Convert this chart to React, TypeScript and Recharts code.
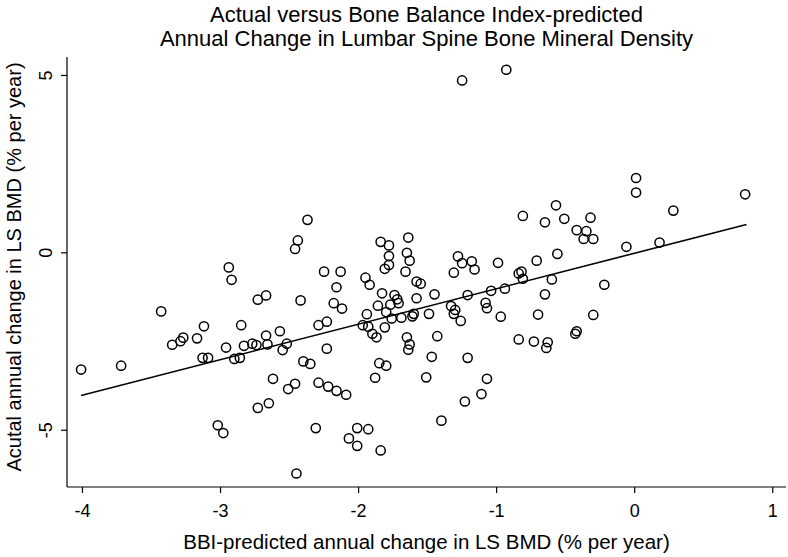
import { ComposedChart, Scatter, XAxis, YAxis } from 'recharts'

// BBI-predicted change (x) and actual change (y), % per year
const predicted = [
  -2.37, -2.44, -2.46, -2.94, -2.92, -3.43, -2.73, -2.67, -2.42, -3.12,
  -2.85, -3.35, -3.27, -3.29, -3.17, -2.96, -2.83, -2.77, -2.74, -2.67,
  -2.66, -2.57, -2.52, -2.55, -4.01, -3.72, -3.13, -3.09, -2.90, -2.86,
  -2.40, -2.35, -2.62, -2.46, -2.51, -2.73, -2.65, -3.02, -2.98, -2.45,
  -0.81, -0.65, -1.84, -1.78, -1.64, -1.65, -1.63, -1.78, -1.78, -1.81,
  -1.66, -2.25, -2.13, -1.95, -1.92, -2.16, -1.58, -1.55, -1.83, -1.74,
  -1.72, -1.71, -1.77, -1.86, -1.80, -1.58, -1.45, -1.28, -1.25, -1.18,
  -1.16, -1.31, -0.99, -0.71, -0.84, -0.82, -0.81, -0.60, -1.21, -1.04,
  -0.94, -0.65, -2.18, -2.12, -1.94, -1.97, -1.93, -1.90, -1.87, -1.81,
  -1.76, -1.69, -1.61, -1.60, -1.49, -1.33, -1.30, -1.31, -1.26, -1.08,
  -1.07, -0.97, -0.70, -2.29, -2.23, -2.23, -1.65, -1.63, -1.64, -1.43,
  -0.84, -0.73, -0.63, -0.64, -1.85, -1.80, -1.88, -1.47, -1.21, -1.51,
  -1.07, -1.11, -1.23, -1.40, -2.29, -2.22, -2.16, -2.09, -2.31, -2.01,
  -1.93, -2.07, -2.01, -1.84, -1.25, -0.93, 0.01, 0.01, 0.80, -0.57,
  0.28, -0.51, -0.32, -0.42, -0.35, -0.37, -0.30, -0.06, 0.18, -0.56,
  -0.22, -0.30, -0.42, -0.43,
]
const actual = [
  0.93, 0.35, 0.11, -0.41, -0.76, -1.65, -1.32, -1.20, -1.34, -2.07,
  -2.04, -2.59, -2.39, -2.49, -2.41, -2.67, -2.62, -2.56, -2.60, -2.33,
  -2.58, -2.21, -2.56, -2.74, -3.29, -3.18, -2.96, -2.96, -2.99, -2.96,
  -3.06, -3.13, -3.55, -3.69, -3.84, -4.37, -4.24, -4.86, -5.08, -6.22,
  1.04, 0.86, 0.31, 0.21, 0.43, 0.00, -0.22, -0.09, -0.34, -0.45,
  -0.53, -0.53, -0.53, -0.70, -0.90, -0.97, -0.81, -0.87, -1.14, -1.19,
  -1.31, -1.42, -1.46, -1.49, -1.67, -1.28, -1.17, -0.10, -0.29, -0.24,
  -0.47, -0.56, -0.28, -0.22, -0.58, -0.53, -0.73, -0.75, -1.19, -1.07,
  -1.01, -1.17, -1.42, -1.57, -1.73, -2.04, -2.08, -2.28, -2.38, -2.10,
  -1.85, -1.83, -1.79, -1.72, -1.72, -1.50, -1.61, -1.72, -1.92, -1.41,
  -1.56, -1.80, -1.74, -2.04, -1.94, -2.70, -2.38, -2.58, -2.73, -2.35,
  -2.44, -2.50, -2.52, -2.68, -3.11, -3.18, -3.52, -2.93, -2.96, -3.51,
  -3.55, -3.98, -4.19, -4.73, -3.66, -3.77, -3.89, -4.00, -4.94, -4.94,
  -4.97, -5.23, -5.44, -5.57, 4.86, 5.16, 2.11, 1.70, 1.65, 1.34,
  1.19, 0.96, 0.99, 0.64, 0.61, 0.39, 0.39, 0.17, 0.29, -0.03,
  -0.90, -1.75, -2.21, -2.28,
]

// ends of the fitted line
const fitX = [-4.01, 0.81]
const fitY = [-4.02, 0.80]

const xTicks = [-4, -3, -2, -1, 0, 1]
const yTicks = [-5, 0, 5]

const points = predicted.map((x, i) => ({ x, y: actual[i] }))
const fit = fitX.map((x, i) => ({ x, y: fitY[i] }))

const FONT = '"Liberation Sans", Arial, Helvetica, sans-serif'

const Ring = (p: any) => (
  <circle cx={p.cx} cy={p.cy} r={4.6} fill="none" stroke="#000" strokeWidth={1.5} />
)

const XTick = ({ x, y, payload }: any) => (
  <text x={x} y={y + 22} textAnchor="middle" fontFamily={FONT} fontSize={18} fill="#000">
    {payload.value}
  </text>
)

const YTick = ({ y, payload }: any) => (
  <text x={52} y={y} transform={`rotate(-90 52 ${y})`} textAnchor="middle"
    fontFamily={FONT} fontSize={18} fill="#000">
    {payload.value}
  </text>
)

export default function App() {
  return (
    <div style={{ position: 'absolute', left: 0, top: 0, width: 788, height: 557, background: '#fff', fontFamily: FONT }}>
      <ComposedChart width={788} height={557} margin={{ top: 57, right: 2, bottom: 30, left: 27 }}>
        <XAxis type="number" dataKey="x" domain={[-4.112, 1.096]} ticks={xTicks}
          allowDataOverflow height={40} tickSize={6}
          axisLine={{ stroke: '#000', strokeWidth: 1.2 }} tickLine={{ stroke: '#000', strokeWidth: 1.2 }}
          tick={<XTick />} interval={0} />
        <YAxis type="number" dataKey="y" domain={[-6.6, 5.52]} ticks={yTicks}
          allowDataOverflow width={40} tickSize={6}
          axisLine={{ stroke: '#000', strokeWidth: 1.2 }} tickLine={{ stroke: '#000', strokeWidth: 1.2 }}
          tick={<YTick />} interval={0} />
        <Scatter data={points} shape={Ring} isAnimationActive={false} />
        <Scatter data={fit} line={{ stroke: '#000', strokeWidth: 1.6 }} shape={() => <g />}
          isAnimationActive={false} />
      </ComposedChart>

      <div style={{ position: 'absolute', left: 0, width: 853, top: 3, textAlign: 'center', fontSize: 22, lineHeight: '24px', color: '#000' }}>
        Actual versus Bone Balance Index-predicted<br />
        Annual Change in Lumbar Spine Bone Mineral Density
      </div>
      <div style={{ position: 'absolute', left: 0, width: 853, top: 530, textAlign: 'center', fontSize: 20.5, color: '#000' }}>
        BBI-predicted annual change in LS BMD (% per year)
      </div>
      <div style={{
        position: 'absolute', left: 14, top: 267, width: 500, marginLeft: -250, textAlign: 'center',
        fontSize: 20, lineHeight: '22px', marginTop: -11, transform: 'rotate(-90deg)', color: '#000',
      }}>
        Acutal annual change in LS BMD (% per year)
      </div>
    </div>
  )
}
